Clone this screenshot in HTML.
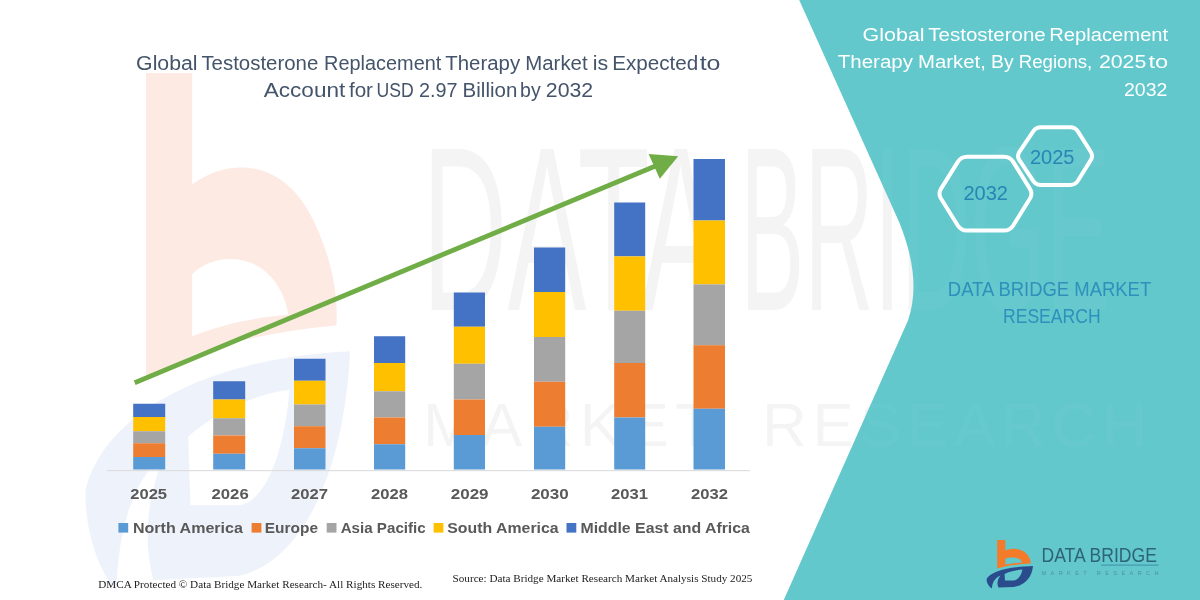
<!DOCTYPE html>
<html lang="en">
<head>
<meta charset="utf-8">
<title>Global Testosterone Replacement Therapy Market</title>
<style>
html,body{margin:0;padding:0;background:#fff;}
body{width:1200px;height:600px;overflow:hidden;font-family:"Liberation Sans",sans-serif;}
svg{display:block;}
.t1{font-family:"Liberation Sans",sans-serif;font-size:19.6px;fill:#44546A;}
.t2{font-family:"Liberation Sans",sans-serif;font-size:18.9px;fill:#fff;}
.yr{font-family:"Liberation Sans",sans-serif;font-weight:bold;font-size:15.4px;fill:#595959;}
.lg{font-family:"Liberation Sans",sans-serif;font-weight:bold;font-size:15px;fill:#595959;}
.hx{font-family:"Liberation Sans",sans-serif;font-size:20.3px;fill:#2786B4;}
.db{font-family:"Liberation Sans",sans-serif;font-size:19.6px;fill:#2F90BC;}
.ft{font-family:"Liberation Serif",serif;font-size:10.6px;fill:#222;}
</style>
</head>
<body>
<svg width="1200" height="600" viewBox="0 0 1200 600">
<rect width="1200" height="600" fill="#ffffff"/>
<!-- faint watermark -->
<g transform="translate(146,73) scale(5.7,10.7) translate(-997.2,-540)">
<path opacity="0.13" d="M997.2,540 H1005.3 V550.4 C1012,547.8 1021,548.2 1026,553.2 C1029.4,556.6 1031,560.4 1030.6,563.6 C1022,564 1012,565 1005.3,566.4 L997.2,568.6 Z M1005.3,558.8 V564.6 C1011,563.4 1017,562.8 1022.2,562.6 C1021.4,560.2 1019,558.4 1015.4,557.7 C1011.6,557 1007.8,557.5 1005.3,558.8 Z" fill="#F0602A" fill-rule="evenodd"/>
<path opacity="0.09" d="M986.6,579 C990,571.5 1009,566.6 1033,566 C1032,577 1025,585.6 1013.5,587 L998.5,587.4 C996.6,583.6 997.4,579.4 1000.6,575.6 C994.6,578 992.3,583 992,588.4 C988.6,586.4 986.4,582.4 986.6,579 Z M1004.6,574 C1010,571.4 1016.6,570 1022.4,569.6 C1021.4,575.4 1018.4,579.8 1013.8,580.4 L1005,580.4 Z" fill="#4472C4" fill-rule="evenodd"/>
</g>
<g font-family="'Liberation Sans',sans-serif" fill="#000" opacity="0.04">
<text x="422" y="310" font-size="233" textLength="298" lengthAdjust="spacingAndGlyphs">DATA</text>
<text x="740" y="310" font-size="233" textLength="370" lengthAdjust="spacingAndGlyphs">BRIDGE</text>
<text x="423" y="446" font-size="62" textLength="290" lengthAdjust="spacing">MARKET</text>
<text x="762" y="446" font-size="62" textLength="385" lengthAdjust="spacing">RESEARCH</text>
</g>

<!-- teal panel -->
<path d="M799.2,0 L899,221.8 Q922.4,279 908,320.4 L783.75,600 L1200,600 L1200,0 Z" fill="#62C8CC"/>
<clipPath id="tc"><path d="M799.2,0 L899,221.8 Q922.4,279 908,320.4 L783.75,600 L1200,600 L1200,0 Z"/></clipPath>
<g clip-path="url(#tc)" font-family="'Liberation Sans',sans-serif" fill="#fff" opacity="0.03">
<text x="740" y="310" font-size="233" textLength="370" lengthAdjust="spacingAndGlyphs">BRIDGE</text>
<text x="762" y="446" font-size="62" textLength="385" lengthAdjust="spacing">RESEARCH</text>
</g>
<!-- axis -->
<rect x="107" y="470" width="643" height="1.2" fill="#DEDEDE"/>
<!-- bars -->
<rect x="133.2" y="403.75" width="32.0" height="13.25" fill="#4472C4"/>
<rect x="133.2" y="417" width="32.0" height="14.25" fill="#FFC000"/>
<rect x="133.2" y="431.25" width="32.0" height="12.00" fill="#A5A5A5"/>
<rect x="133.2" y="443.25" width="32.0" height="13.75" fill="#ED7D31"/>
<rect x="133.2" y="457" width="32.0" height="12.50" fill="#5B9BD5"/>
<rect x="213.2" y="381.25" width="32.0" height="18.25" fill="#4472C4"/>
<rect x="213.2" y="399.5" width="32.0" height="18.75" fill="#FFC000"/>
<rect x="213.2" y="418.25" width="32.0" height="17.25" fill="#A5A5A5"/>
<rect x="213.2" y="435.5" width="32.0" height="18.25" fill="#ED7D31"/>
<rect x="213.2" y="453.75" width="32.0" height="15.75" fill="#5B9BD5"/>
<rect x="294" y="358.75" width="31.5" height="22.00" fill="#4472C4"/>
<rect x="294" y="380.75" width="31.5" height="23.75" fill="#FFC000"/>
<rect x="294" y="404.5" width="31.5" height="21.75" fill="#A5A5A5"/>
<rect x="294" y="426.25" width="31.5" height="22.00" fill="#ED7D31"/>
<rect x="294" y="448.25" width="31.5" height="21.25" fill="#5B9BD5"/>
<rect x="374" y="336.25" width="31.2" height="26.75" fill="#4472C4"/>
<rect x="374" y="363" width="31.2" height="28.25" fill="#FFC000"/>
<rect x="374" y="391.25" width="31.2" height="26.25" fill="#A5A5A5"/>
<rect x="374" y="417.5" width="31.2" height="26.75" fill="#ED7D31"/>
<rect x="374" y="444.25" width="31.2" height="25.25" fill="#5B9BD5"/>
<rect x="453.8" y="292.5" width="31.2" height="34.25" fill="#4472C4"/>
<rect x="453.8" y="326.75" width="31.2" height="37.00" fill="#FFC000"/>
<rect x="453.8" y="363.75" width="31.2" height="35.75" fill="#A5A5A5"/>
<rect x="453.8" y="399.5" width="31.2" height="35.50" fill="#ED7D31"/>
<rect x="453.8" y="435" width="31.2" height="34.50" fill="#5B9BD5"/>
<rect x="534" y="247.5" width="31.2" height="44.50" fill="#4472C4"/>
<rect x="534" y="292" width="31.2" height="45.00" fill="#FFC000"/>
<rect x="534" y="337" width="31.2" height="44.75" fill="#A5A5A5"/>
<rect x="534" y="381.75" width="31.2" height="45.00" fill="#ED7D31"/>
<rect x="534" y="426.75" width="31.2" height="42.75" fill="#5B9BD5"/>
<rect x="614.2" y="202.5" width="31.0" height="53.90" fill="#4472C4"/>
<rect x="614.2" y="256.4" width="31.0" height="54.35" fill="#FFC000"/>
<rect x="614.2" y="310.75" width="31.0" height="52.25" fill="#A5A5A5"/>
<rect x="614.2" y="363" width="31.0" height="54.50" fill="#ED7D31"/>
<rect x="614.2" y="417.5" width="31.0" height="52.00" fill="#5B9BD5"/>
<rect x="693.5" y="159" width="31.5" height="61.50" fill="#4472C4"/>
<rect x="693.5" y="220.5" width="31.5" height="63.90" fill="#FFC000"/>
<rect x="693.5" y="284.4" width="31.5" height="60.80" fill="#A5A5A5"/>
<rect x="693.5" y="345.2" width="31.5" height="63.55" fill="#ED7D31"/>
<rect x="693.5" y="408.75" width="31.5" height="60.75" fill="#5B9BD5"/>
<!-- arrow -->
<g fill="#70AD47" stroke="none">
<path d="M135.6,384.9 L133.8,380.4 L654.6,163.8 L656.4,168.3 Z"/>
<path d="M678.2,156.3 L648.6,154 L659.8,178.8 Z"/>
</g>
<!-- titles -->
<g class="t1">
<text y="69.8"><tspan x="136.1" textLength="61.5" lengthAdjust="spacingAndGlyphs">Global</tspan> <tspan x="201.4" textLength="116.9" lengthAdjust="spacingAndGlyphs">Testosterone</tspan> <tspan x="324.1" textLength="117.2" lengthAdjust="spacingAndGlyphs">Replacement</tspan> <tspan x="445.3" textLength="74.8" lengthAdjust="spacingAndGlyphs">Therapy</tspan> <tspan x="525.3" textLength="62.3" lengthAdjust="spacingAndGlyphs">Market</tspan> <tspan x="592.7" textLength="15.4" lengthAdjust="spacingAndGlyphs">is</tspan> <tspan x="612.2" textLength="86.0" lengthAdjust="spacingAndGlyphs">Expected</tspan> <tspan x="699.7" textLength="20.8" lengthAdjust="spacingAndGlyphs">to</tspan></text>
<text y="97.2"><tspan x="263.7" textLength="81.6" lengthAdjust="spacingAndGlyphs">Account</tspan> <tspan x="348.9" textLength="24.1" lengthAdjust="spacingAndGlyphs">for</tspan> <tspan x="376.6" textLength="37.2" lengthAdjust="spacingAndGlyphs">USD</tspan> <tspan x="418.9" textLength="38.6" lengthAdjust="spacingAndGlyphs">2.97</tspan> <tspan x="462.6" textLength="54.7" lengthAdjust="spacingAndGlyphs">Billion</tspan> <tspan x="520.1" textLength="20.6" lengthAdjust="spacingAndGlyphs">by</tspan> <tspan x="545.8" textLength="47.4" lengthAdjust="spacingAndGlyphs">2032</tspan></text>
</g>
<g class="t2">
<text y="40.7"><tspan x="862.6" textLength="62.0" lengthAdjust="spacingAndGlyphs">Global</tspan> <tspan x="928.3" textLength="117.4" lengthAdjust="spacingAndGlyphs">Testosterone</tspan> <tspan x="1049.3" textLength="118.9" lengthAdjust="spacingAndGlyphs">Replacement</tspan></text>
<text y="67.7"><tspan x="837.8" textLength="75.2" lengthAdjust="spacingAndGlyphs">Therapy</tspan> <tspan x="918.1" textLength="67.8" lengthAdjust="spacingAndGlyphs">Market,</tspan> <tspan x="991.0" textLength="22.6" lengthAdjust="spacingAndGlyphs">By</tspan> <tspan x="1018.7" textLength="73.6" lengthAdjust="spacingAndGlyphs">Regions,</tspan> <tspan x="1098.9" textLength="47.4" lengthAdjust="spacingAndGlyphs">2025</tspan> <tspan x="1148.5" textLength="19.7" lengthAdjust="spacingAndGlyphs">to</tspan></text>
<text x="1124" y="95.6" textLength="43.4" lengthAdjust="spacingAndGlyphs">2032</text>
</g>
<!-- hexagons -->
<g fill="none" stroke="#ffffff" stroke-width="4" stroke-linejoin="round">
<path d="M941.1,198.8 Q937.9,193.7 941.1,188.6 L957.8,161.9 Q961.0,156.8 967.0,156.8 L1004.0,156.8 Q1010.0,156.8 1013.2,161.9 L1029.8,188.6 Q1033.0,193.7 1029.8,198.8 L1013.2,225.5 Q1010.0,230.6 1004.0,230.6 L967.0,230.6 Q961.0,230.6 957.8,225.5 Z"/>
<path d="M1019.4,160.2 Q1016.6,156.0 1019.4,151.9 L1033.2,131.3 Q1036.0,127.2 1041.0,127.2 L1070.2,127.2 Q1075.2,127.2 1077.9,131.4 L1090.7,151.8 Q1093.4,156.0 1090.7,160.2 L1077.9,180.8 Q1075.2,185.0 1070.2,185.0 L1041.0,185.0 Q1036.0,185.0 1033.2,180.8 Z"/>
</g>
<g class="hx">
<text x="963.4" y="199.9" textLength="44.6" lengthAdjust="spacingAndGlyphs">2032</text>
<text x="1029.9" y="164.2" textLength="44.6" lengthAdjust="spacingAndGlyphs">2025</text>
</g>
<g class="db">
<text x="947.8" y="295.9" textLength="203.4" lengthAdjust="spacingAndGlyphs">DATA BRIDGE MARKET</text>
<text x="1003" y="322.5" textLength="97.6" lengthAdjust="spacingAndGlyphs">RESEARCH</text>
</g>
<!-- axis labels -->
<g class="yr">
<text x="130.2" y="498.5" textLength="36.9" lengthAdjust="spacingAndGlyphs">2025</text>
<text x="211.5" y="498.5" textLength="37.2" lengthAdjust="spacingAndGlyphs">2026</text>
<text x="291.1" y="498.5" textLength="37.0" lengthAdjust="spacingAndGlyphs">2027</text>
<text x="371.0" y="498.5" textLength="37.0" lengthAdjust="spacingAndGlyphs">2028</text>
<text x="450.7" y="498.5" textLength="37.9" lengthAdjust="spacingAndGlyphs">2029</text>
<text x="530.9" y="498.5" textLength="37.9" lengthAdjust="spacingAndGlyphs">2030</text>
<text x="611.1" y="498.5" textLength="37.0" lengthAdjust="spacingAndGlyphs">2031</text>
<text x="691.0" y="498.5" textLength="37.0" lengthAdjust="spacingAndGlyphs">2032</text>
</g>
<!-- legend -->
<g class="lg">
<rect x="118.4" y="523" width="9.8" height="9.6" fill="#5B9BD5"/>
<text x="133.0" y="532.6" textLength="109.9" lengthAdjust="spacingAndGlyphs">North America</text>
<rect x="251.6" y="523" width="9.8" height="9.6" fill="#ED7D31"/>
<text x="264.8" y="532.6" textLength="53.2" lengthAdjust="spacingAndGlyphs">Europe</text>
<rect x="326.7" y="523" width="9.8" height="9.6" fill="#A5A5A5"/>
<text x="340.7" y="532.6" textLength="85.0" lengthAdjust="spacingAndGlyphs">Asia Pacific</text>
<rect x="433.6" y="523" width="9.8" height="9.6" fill="#FFC000"/>
<text x="447.3" y="532.6" textLength="111.3" lengthAdjust="spacingAndGlyphs">South America</text>
<rect x="566.5" y="523" width="9.8" height="9.6" fill="#4472C4"/>
<text x="580.5" y="532.6" textLength="169.4" lengthAdjust="spacingAndGlyphs">Middle East and Africa</text>
</g>
<!-- footer -->
<g class="ft">
<text x="98.2" y="587.7" textLength="324.2" lengthAdjust="spacingAndGlyphs">DMCA Protected © Data Bridge Market Research- All Rights Reserved.</text>
<text x="452.6" y="582.4" textLength="299.8" lengthAdjust="spacingAndGlyphs">Source: Data Bridge Market Research Market Analysis Study 2025</text>
</g>
<!-- logo -->
<g>
<path d="M997.2,540 H1005.3 V550.4 C1012,547.8 1021,548.2 1026,553.2 C1029.4,556.6 1031,560.4 1030.6,563.6 C1022,564 1012,565 1005.3,566.4 L997.2,568.6 Z M1005.3,558.8 V564.6 C1011,563.4 1017,562.8 1022.2,562.6 C1021.4,560.2 1019,558.4 1015.4,557.7 C1011.6,557 1007.8,557.5 1005.3,558.8 Z" fill="#F47B2A" fill-rule="evenodd"/>
<path d="M986.6,579 C990,571.5 1009,566.6 1033,566 C1032,577 1025,585.6 1013.5,587 L998.5,587.4 C996.6,583.6 997.4,579.4 1000.6,575.6 C994.6,578 992.3,583 992,588.4 C988.6,586.4 986.4,582.4 986.6,579 Z M1004.6,574 C1010,571.4 1016.6,570 1022.4,569.6 C1021.4,575.4 1018.4,579.8 1013.8,580.4 L1005,580.4 Z" fill="#2B4C8C" fill-rule="evenodd"/>
<g font-family="'Liberation Sans',sans-serif">
<text x="1041.5" y="561.7" font-size="20" fill="#2E6478" textLength="115.4" lengthAdjust="spacingAndGlyphs">DATA BRIDGE</text>
<rect x="1101" y="564.6" width="57.5" height="1" fill="#3F8FA8"/>
<text x="1041.5" y="574.7" font-size="5.6" fill="#4F929E" textLength="117" lengthAdjust="spacing">MARKET  RESEARCH</text>
</g>
</g>

</svg>
</body>
</html>
